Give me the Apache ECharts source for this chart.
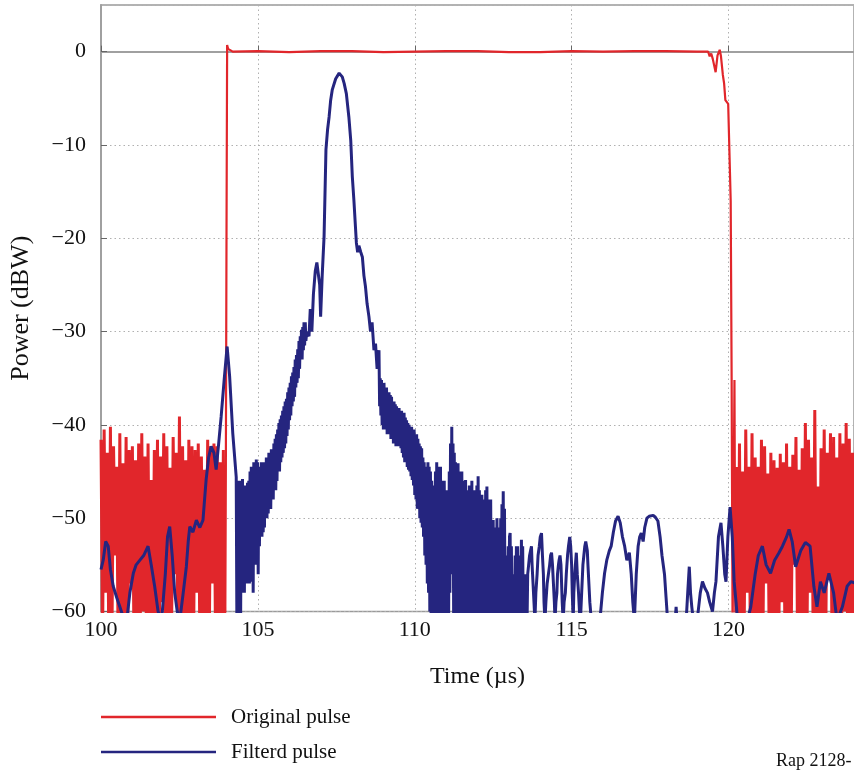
<!DOCTYPE html>
<html>
<head>
<meta charset="utf-8">
<script src="https://cdn.jsdelivr.net/npm/echarts@6/dist/echarts.min.js"></script>
<style>html,body{margin:0;padding:0;background:#fff}#c{width:854px;height:772px}</style>
</head>
<body>
<div id="c"></div>
<script>
// ---- data (time in µs, power in dBW) ----
const seriesNames = ['Original pulse', 'Filterd pulse'];
const xRange = [100, 124];
const yRange = [-60, 5];

const originalLeftNoise = [
[100.00,-41.6],[100.05,-63],[100.10,-40.5],[100.15,-58],[100.20,-43.0],[100.25,-64],[100.30,-40.2],[100.35,-62],
[100.40,-42.3],[100.45,-54],[100.50,-44.5],[100.55,-65],[100.60,-40.9],[100.65,-63],[100.70,-44.1],[100.75,-61],
[100.80,-41.3],[100.85,-64],[100.90,-42.7],[100.95,-57],[101.00,-42.3],[101.05,-63],[101.10,-43.8],[101.15,-65],
[101.20,-42.0],[101.25,-62],[101.30,-40.9],[101.35,-60],[101.40,-43.4],[101.45,-64],[101.50,-42.0],[101.55,-63],
[101.60,-45.9],[101.65,-63],[101.70,-42.7],[101.75,-62],[101.80,-41.6],[101.85,-66],[101.90,-43.4],[101.95,-59],
[102.00,-40.9],[102.05,-63],[102.10,-42.3],[102.15,-64],[102.20,-44.6],[102.25,-62],[102.30,-41.3],[102.35,-56],
[102.40,-43.0],[102.45,-64],[102.50,-39.1],[102.55,-63],[102.60,-42.3],[102.65,-61],[102.70,-43.8],[102.75,-65],
[102.80,-41.6],[102.85,-62],[102.90,-42.3],[102.95,-64],[103.00,-42.7],[103.05,-58],[103.10,-42.0],[103.15,-63],
[103.20,-43.4],[103.25,-65],[103.30,-44.8],[103.35,-62],[103.40,-41.6],[103.45,-64],[103.50,-42.3],[103.55,-57],
[103.60,-42.0],[103.65,-63],[103.70,-42.3],[103.75,-64],[103.80,-44.0],[103.85,-62],[103.90,-42.7],[103.95,-65]
];

const originalPulse = [
[103.96,-62],[103.98,-44],[104.00,-20],[104.02,0.7],[104.05,0.3],[104.08,0.1],[104.2,0],[105,0.05],[106,-0.05],[107,0.05],
[108,0.05],[109,-0.05],[110,0],[111,0.05],[112,0.05],[113,-0.05],[114,-0.05],[115,0.05],[116,0],[117,0.05],
[118,0.05],[119,0],[119.35,0],[119.40,-0.5],[119.45,-0.2],[119.50,-0.8],[119.55,-0.6],[119.59,-2.2],[119.65,-0.4],
[119.72,0.2],[119.76,-0.5],[119.82,-2.5],[119.86,-3.4],[119.90,-5.2],[119.96,-5.0],[119.99,-5.6],[120.02,-9.5],
[120.07,-16],[120.10,-35],[120.13,-62],[120.16,-50],[120.19,-35.2],[120.22,-63]
];

const originalRightNoise = [
[120.25,-44.5],[120.30,-63],[120.35,-42.0],[120.40,-65],[120.45,-45.0],[120.50,-62],[120.55,-40.5],[120.60,-58],
[120.65,-44.5],[120.70,-64],[120.75,-40.9],[120.80,-63],[120.85,-43.5],[120.90,-61],[120.95,-44.5],[121.00,-65],
[121.05,-41.6],[121.10,-62],[121.15,-42.3],[121.20,-57],[121.25,-45.2],[121.30,-64],[121.35,-43.0],[121.40,-63],
[121.45,-43.8],[121.50,-62],[121.55,-44.6],[121.60,-65],[121.65,-43.1],[121.70,-59],[121.75,-44.0],[121.80,-63],
[121.85,-42.0],[121.90,-64],[121.95,-44.5],[122.00,-62],[122.05,-43.2],[122.10,-55],[122.15,-41.3],[122.20,-63],
[122.25,-44.8],[122.30,-65],[122.35,-42.5],[122.40,-62],[122.45,-39.8],[122.50,-64],[122.55,-41.6],[122.60,-58],
[122.65,-43.5],[122.70,-63],[122.75,-38.4],[122.80,-62],[122.85,-46.6],[122.90,-65],[122.95,-42.5],[123.00,-61],
[123.05,-40.5],[123.10,-63],[123.15,-43.0],[123.20,-56],[123.25,-40.9],[123.30,-64],[123.35,-41.3],[123.40,-62],
[123.45,-43.5],[123.50,-63],[123.55,-40.9],[123.60,-65],[123.65,-42.0],[123.70,-60],[123.75,-39.8],[123.80,-63],
[123.85,-41.5],[123.90,-64],[123.95,-43.0],[124.00,-62],[124.05,-41.0],[124.10,-63]
];

const filteredPulse = [
[100.00,-55.5],[100.07,-54.5],[100.15,-52.5],[100.23,-53.0],[100.30,-55.5],[100.39,-57.3],[100.50,-58.5],[100.60,-59.5],
[100.70,-60.5],[100.82,-61],[100.92,-58],[101.03,-55.9],[101.12,-55],[101.24,-54.5],[101.36,-54],[101.50,-53],
[101.60,-55],[101.71,-57.3],[101.82,-60],[101.93,-61],[102.05,-56],[102.12,-52],[102.19,-50.9],[102.27,-54],
[102.35,-58],[102.43,-60],[102.51,-61],[102.62,-58],[102.72,-55.2],[102.78,-52.5],[102.83,-50.9],[102.93,-51.5],
[103.04,-50.2],[103.15,-51],[103.25,-50.2],[103.35,-45.9],[103.43,-43.5],[103.51,-42.3],[103.60,-43],[103.67,-44.8],
[103.75,-42],[103.83,-39.1],[103.93,-35],[104.02,-31.6],[104.10,-34.8],[104.20,-40.9],[104.31,-45.6],
[104.33,-60.5],[104.35,-47],[104.37,-61],[104.39,-46],[104.41,-59],[104.43,-47],[104.45,-61],[104.47,-46],[104.49,-58],
[104.51,-45.8],[104.53,-57],[104.55,-47],[104.57,-58],[104.59,-46.5],[104.61,-56],[104.63,-47],[104.65,-57],
[104.67,-46.2],[104.69,-56],[104.71,-46],[104.73,-57],[104.75,-45],[104.77,-56.8],[104.79,-44.5],[104.81,-55],
[104.83,-45],[104.85,-58],[104.87,-44],[104.89,-54],[104.91,-44.5],[104.93,-55],[104.95,-43.7],[104.97,-54],
[104.99,-44],[105.01,-56],[105.03,-44.5],[105.05,-53],[105.07,-44.5],[105.09,-52],[105.11,-44],[105.13,-52],
[105.15,-44],[105.17,-51.5],[105.19,-44.4],[105.21,-51],[105.23,-44],[105.25,-50],[105.27,-43.5],[105.29,-50],
[105.31,-43.5],[105.33,-49.5],[105.35,-43],[105.37,-49],[105.39,-43],[105.41,-49],[105.43,-42.6],[105.45,-48],
[105.47,-42.6],[105.49,-48],[105.51,-42],[105.53,-47],[105.55,-41.5],[105.57,-47],[105.59,-41],[105.61,-46],
[105.63,-40.5],[105.65,-45],[105.67,-39.8],[105.69,-45],[105.71,-39.4],[105.73,-44],[105.75,-39],[105.77,-43.5],
[105.79,-38.5],[105.81,-43],[105.83,-38],[105.85,-42.5],[105.87,-37.5],[105.89,-42],[105.91,-37.2],[105.93,-41.2],
[105.95,-36.5],[105.97,-40.5],[105.99,-36],[106.01,-39.5],[106.03,-35.5],[106.05,-39],[106.07,-34.8],[106.09,-38],
[106.11,-34.4],[106.13,-37.5],[106.15,-33.8],[106.17,-37],[106.19,-33],[106.21,-36],[106.23,-32.5],[106.25,-35.5],
[106.27,-31.9],[106.29,-35],[106.31,-31],[106.33,-34],[106.35,-30.5],[106.37,-33],[106.39,-29.8],[106.41,-33],
[106.43,-29.5],[106.45,-32],[106.47,-29],[106.49,-31.5],[106.51,-29],[106.53,-31],[106.56,-30],
[106.63,-30.5],[106.67,-27.6],[106.72,-30],[106.77,-26],[106.83,-23.5],[106.88,-22.6],[106.93,-22.7],[106.97,-25],
[107.00,-28.4],[107.05,-24],[107.11,-19.8],[107.17,-10.5],[107.22,-8.4],[107.27,-7],[107.32,-5.2],[107.37,-4.1],
[107.48,-2.9],[107.59,-2.3],[107.69,-2.7],[107.75,-3.4],[107.82,-4.5],[107.90,-7],[107.96,-9.5],[108.01,-13.4],
[108.06,-15.9],[108.14,-20.5],[108.18,-21.5],[108.22,-20.8],[108.28,-21.5],[108.33,-22],[108.38,-24],[108.43,-25.2],
[108.48,-27],[108.54,-28.4],[108.59,-30],[108.64,-29],[108.70,-32],[108.75,-31.3],[108.80,-34],[108.86,-32],
[108.88,-38],[108.90,-35],[108.92,-39],[108.94,-35.2],[108.96,-40],[108.98,-35.5],[109.00,-40.5],[109.02,-35.5],
[109.04,-40],[109.06,-36],[109.08,-40.5],[109.10,-36],[109.12,-41],[109.14,-36.5],[109.16,-40.5],[109.18,-36.5],
[109.20,-41],[109.22,-36.8],[109.24,-41.5],[109.26,-37],[109.28,-41.5],[109.30,-37.5],[109.32,-42],[109.34,-37.5],
[109.36,-42],[109.38,-37.8],[109.40,-42.3],[109.42,-38],[109.44,-42.3],[109.46,-38.2],[109.48,-42],[109.50,-38.2],
[109.52,-42.3],[109.54,-38.5],[109.56,-42.5],[109.58,-38.5],[109.60,-43],[109.62,-38.7],[109.64,-43.5],[109.66,-38.7],
[109.68,-44],[109.70,-39.2],[109.72,-44],[109.74,-39.5],[109.76,-44.5],[109.78,-39.8],[109.80,-44.8],[109.82,-40],
[109.84,-45],[109.86,-40.2],[109.88,-45.5],[109.90,-40.2],[109.92,-45.9],[109.94,-40.5],[109.96,-46.5],[109.98,-40.5],
[110.00,-47.5],[110.02,-41],[110.04,-48],[110.06,-41],[110.08,-49],[110.10,-41.5],[110.12,-49],[110.14,-42],
[110.16,-50],[110.18,-42.3],[110.20,-50.5],[110.22,-42.5],[110.24,-51],[110.26,-43.5],[110.28,-52],[110.30,-44],
[110.32,-54],[110.34,-45.2],[110.36,-55],[110.38,-44.5],[110.40,-57],[110.42,-44],[110.44,-58],[110.46,-44.5],
[110.48,-60],[110.50,-45],[110.52,-61],[110.54,-46],[110.56,-61],[110.58,-46.5],[110.60,-61],[110.62,-47],
[110.64,-60],[110.66,-45],[110.68,-61],
[110.70,-44.0],[110.72,-61],[110.74,-44.5],[110.76,-60],[110.78,-45],[110.80,-61],[110.82,-44.5],[110.84,-59],
[110.86,-46],[110.88,-61],[110.90,-52],[110.92,-61],[110.94,-46],[110.96,-61],[110.98,-47],[111.00,-60],
[111.02,-47],[111.04,-61],[111.06,-50],[111.08,-61],[111.10,-45],[111.12,-58],[111.14,-42],[111.16,-56],
[111.18,-40.2],[111.20,-55],[111.22,-42],[111.24,-61],[111.26,-43],[111.28,-60],[111.30,-44],[111.32,-61],
[111.34,-48],[111.36,-61],[111.38,-44.1],[111.40,-59],[111.42,-45],[111.44,-61],[111.46,-47],[111.48,-61],
[111.50,-45],[111.52,-61],[111.54,-47],[111.56,-61],[111.58,-46],[111.60,-60],[111.62,-45.9],[111.64,-61],
[111.66,-47],[111.68,-61],[111.70,-47],[111.72,-58],[111.74,-46.5],[111.76,-61],[111.78,-49],[111.80,-61],
[111.82,-46],[111.84,-60],[111.86,-47],[111.88,-61],[111.90,-51],[111.92,-61],[111.94,-47],[111.96,-59],
[111.98,-46.5],[112.00,-61],[112.02,-45.5],[112.04,-60],[112.06,-47],[112.08,-61],[112.10,-48],[112.12,-61],
[112.14,-47.5],[112.16,-58],[112.18,-52],[112.20,-61],[112.22,-48],[112.24,-61],[112.26,-47],[112.28,-60],
[112.30,-46.6],[112.32,-61],[112.34,-48],[112.36,-61],[112.38,-49],[112.40,-59],[112.42,-48],[112.44,-61],
[112.46,-53],[112.48,-61],[112.50,-50.2],[112.52,-61],[112.54,-51],[112.56,-61],[112.58,-55],[112.60,-61],
[112.62,-50],[112.64,-60],[112.66,-51],[112.68,-61],[112.70,-52],[112.72,-61],[112.74,-50],[112.76,-61],
[112.78,-48.5],[112.80,-60],[112.82,-47.1],[112.84,-61],[112.86,-49],[112.88,-61],[112.90,-54],[112.92,-61],
[112.94,-56],[112.96,-61],[112.98,-53],[113.00,-61],[113.02,-52],[113.04,-51.6],[113.06,-61],[113.08,-53],
[113.10,-61],[113.12,-56],[113.14,-61],[113.16,-58],[113.18,-61],[113.20,-54],[113.22,-61],[113.24,-53],
[113.26,-61],[113.28,-53],[113.30,-61],[113.32,-54],[113.34,-61],[113.36,-55],[113.38,-61],[113.40,-52.3],
[113.42,-61],[113.44,-53],[113.46,-61],[113.48,-56],[113.50,-61],[113.52,-58],[113.54,-61],[113.56,-56],
[113.58,-61],[113.60,-56],
[113.63,-55],[113.66,-54],[113.69,-53.5],[113.72,-53],[113.74,-55],[113.77,-57],[113.80,-59],[113.83,-61],
[113.86,-58],[113.90,-56],[113.93,-54],[113.97,-53],[114.00,-52],[114.04,-51.6],[114.07,-54],
[114.10,-56],[114.12,-59],[114.15,-61],[114.18,-59],[114.22,-57],[114.26,-56],[114.30,-55],[114.33,-54],[114.36,-53.7],
[114.39,-55],[114.42,-57],[114.45,-59],[114.47,-61],[114.50,-59],[114.53,-58],[114.55,-56],
[114.58,-55],[114.60,-54.5],[114.63,-54],[114.66,-55],[114.68,-57],[114.70,-59],[114.73,-61],[114.76,-59],[114.80,-58],
[114.83,-56],[114.87,-54],[114.90,-53],[114.94,-52],[114.97,-53],[115.00,-55],[115.02,-58],
[115.05,-61],[115.07,-58],[115.10,-56],[115.12,-55],[115.15,-53.7],[115.18,-56],[115.22,-58],[115.25,-60],[115.28,-61],
[115.32,-58],[115.36,-55],[115.39,-54],[115.42,-53],[115.45,-52.5],[115.47,-52.3],[115.50,-53.5],
[115.52,-55],[115.55,-57],[115.58,-59],[115.63,-61],[115.80,-61],[115.90,-61],[115.98,-58],[116.05,-55.9],[116.12,-54.5],
[116.20,-53.5],[116.26,-53],[116.33,-51.5],[116.40,-50.3],[116.48,-49.8],[116.55,-50.5],[116.62,-52],[116.69,-53],
[116.76,-54.5],[116.84,-53.7],[116.90,-56],[116.95,-59],[117.00,-61],[117.06,-56],[117.12,-53],[117.17,-52],
[117.22,-51.6],[117.28,-52.5],[117.33,-51],[117.40,-50],[117.47,-49.8],[117.53,-49.7],[117.60,-49.7],[117.67,-49.9],
[117.75,-50.3],[117.82,-52],[117.88,-54],[117.96,-56],[118.01,-58.5],[118.06,-61],[118.30,-61],[118.33,-59.5],
[118.36,-61],[118.65,-61],[118.70,-58],[118.75,-55.2],[118.79,-58],[118.83,-59.5],[118.88,-61],[119.00,-61],
[119.10,-58],[119.17,-56.8],[119.25,-57.5],[119.33,-58],[119.40,-59],[119.49,-60],[119.55,-58],[119.60,-56.8],
[119.68,-52],[119.76,-50.5],[119.82,-53],[119.88,-56],[119.92,-56.8],[119.98,-52],[120.05,-48.8],[120.12,-52],
[120.18,-56.8],[120.24,-59],[120.29,-61],[120.60,-61],[120.71,-59.5],[120.85,-56],[120.95,-54],[121.08,-53],
[121.20,-55],[121.34,-55.9],[121.47,-54.5],[121.61,-53.7],[121.72,-53],[121.85,-52],[121.93,-51.2],[122.03,-52.5],
[122.14,-55.2],[122.30,-53.5],[122.45,-52.6],[122.60,-53],[122.72,-57.3],[122.82,-59.5],[122.93,-56.8],[123.05,-58],
[123.20,-55.9],[123.35,-58],[123.46,-61],[123.63,-59.5],[123.78,-57.3],[123.90,-56.8],[124.10,-57]
];

const RED = '#e1262b';
const BLUE = '#25257f';
const FONT = '"Liberation Serif", "DejaVu Serif", serif';

function lineSeries(name, data, color, width, z) {
  return {name: name, type: 'line', data: data, showSymbol: false, symbol: 'none', clip: true,
          lineStyle: {color: color, width: width}, itemStyle: {color: color}, z: z};
}

const chart = echarts.init(document.getElementById('c'), null, {renderer: 'canvas'});
chart.setOption({
  animation: false,
  backgroundColor: '#fff',
  grid: {left: 101, top: 5, right: -3, bottom: 160.5, show: true, borderColor: '#9a9a9a', borderWidth: 1.5, containLabel: false},
  legend: {
    data: seriesNames, orient: 'vertical', left: 101, top: 706, height: 66, padding: 0,
    icon: 'rect', itemWidth: 115, itemHeight: 2.5, itemGap: 13,
    textStyle: {fontFamily: FONT, fontSize: 21, color: '#111', padding: [0,0,0,10], lineHeight: 22}
  },
  xAxis: {
    type: 'value', min: xRange[0], max: xRange[1], interval: 5,
    name: 'Time (µs)', nameLocation: 'middle', nameGap: 53,
    nameTextStyle: {fontFamily: FONT, fontSize: 24, color: '#111'},
    axisLine: {show: true, lineStyle: {color: '#a0a0a0', width: 2}},
    axisTick: {show: true, inside: true, length: 6, lineStyle: {color: '#666'}},
    axisLabel: {fontFamily: FONT, fontSize: 22, color: '#111', margin: 8, showMaxLabel: false},
    splitLine: {show: true, lineStyle: {color: '#b0b0b0', type: [1.5, 3], width: 1}}
  },
  yAxis: {
    type: 'value', min: yRange[0], max: yRange[1], interval: 10,
    name: 'Power (dBW)', nameLocation: 'middle', nameGap: 67, nameRotate: 90,
    nameTextStyle: {fontFamily: FONT, fontSize: 26, color: '#111'},
    axisLine: {show: true, lineStyle: {color: '#a0a0a0', width: 2}},
    axisTick: {show: true, inside: true, length: 6, lineStyle: {color: '#666'}},
    axisLabel: {fontFamily: FONT, fontSize: 22, color: '#111', margin: 15, showMaxLabel: false,
      formatter: v => String(v).replace('-', '\u2212')},
    splitLine: {show: true, lineStyle: {color: '#b0b0b0', type: [1.5, 3], width: 1}}
  },
  graphic: [{
    type: 'text', left: 776, top: 752,
    style: {text: 'Rap 2128-', font: '18px ' + FONT, fill: '#111'}
  }],
  series: [
    lineSeries(seriesNames[0], originalLeftNoise, RED, 3, 2),
    lineSeries(seriesNames[0], originalPulse, RED, 2.2, 2),
    lineSeries(seriesNames[0], originalRightNoise, RED, 3, 2),
    lineSeries(seriesNames[1], filteredPulse, BLUE, 3, 3)
  ]
});
</script>
</body>
</html>
